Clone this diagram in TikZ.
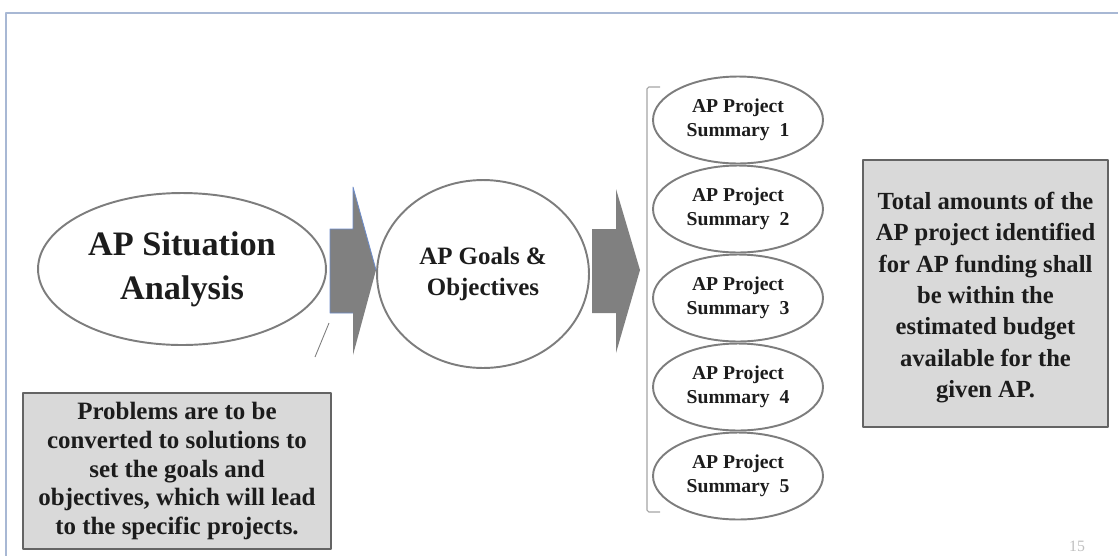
\documentclass[tikz,border=0pt]{standalone}
\usepackage{fontspec}
\setmainfont{Liberation Serif}
\usetikzlibrary{shapes.geometric}

\definecolor{frameblue}{RGB}{168,184,212}
\definecolor{rimgray}{RGB}{125,125,125}
\definecolor{boxgray}{RGB}{217,217,217}
\definecolor{arrowgray}{RGB}{128,128,128}
\definecolor{inkdark}{RGB}{28,28,28}
\definecolor{edgeblue}{RGB}{110,140,200}

\tikzset{
  bubble/.style={ellipse, draw=rimgray, line width=1.1pt, inner sep=0pt,
    text=inkdark, font=\bfseries, align=center},
  notebox/.style={rectangle, draw=rimgray!80!black, line width=0.8pt,
    fill=boxgray, inner sep=0pt, text=inkdark, align=center},
  blockarrow/.style={fill=arrowgray, draw=none}
}

\begin{document}
\begin{tikzpicture}[x=0.02cm, y=-0.02cm, line join=round]
  \useasboundingbox (0,0) rectangle (1118,555);

  % cadre de la diapositive
  \draw[frameblue, line width=1.2pt] (6,560) -- (6,13) -- (1125,13);

  % situation et objectifs
  \node[bubble, minimum width=5.76cm, minimum height=3.04cm,
    font=\bfseries\fontsize{19.5}{25}\selectfont] (situation) at (182,269)
    {AP Situation\\Analysis};
  \node[bubble, minimum width=4.24cm, minimum height=3.76cm,
    font=\bfseries\fontsize{14.2}{18.2}\selectfont] (goals) at (483,274)
    {AP Goals \&\\Objectives};

  % trait vers la note
  \coordinate (tickA) at (329,323);
  \coordinate (tickB) at (315,357);
  \draw[rimgray, line width=0.5pt] (tickA) -- (tickB);

  % flèches pleines
  \fill[blockarrow] (330,229) -- (353,229) -- (353,187) -- (376,270)
    -- (353,355) -- (353,313) -- (330,313) -- cycle;
  \draw[edgeblue, line width=0.5pt] (353,313) -- (330,313) -- (330,229)
    -- (353,229) -- (353,187) -- (376,270);
  \fill[blockarrow] (592,229) -- (616,229) -- (616,189) -- (640,270)
    -- (616,353) -- (616,313) -- (592,313) -- cycle;

  % accolade des projets
  \draw[rimgray!70, line width=0.6pt, rounded corners=1pt]
    (660,87) -- (647,87) -- (647,512) -- (660,512);

  % résumés des projets
  \foreach \k/\yy in {1/120, 2/209, 3/298, 4/387, 5/476}
    \node[bubble, minimum width=3.4cm, minimum height=1.74cm,
      font=\bfseries\fontsize{11.2}{13.8}\selectfont] (summary\k) at (738,\yy)
      {AP Project\\Summary~~\k};

  % notes grises
  \node[notebox, minimum width=6.16cm, minimum height=3.12cm,
    font=\bfseries\fontsize{14.2}{16.3}\selectfont] (problems) at (177,471)
    {Problems are to be\\converted to solutions to\\set the goals and\\objectives, which will lead\\to the specific projects.};
  \node[notebox, minimum width=4.9cm, minimum height=5.34cm,
    font=\bfseries\fontsize{14}{17.8}\selectfont] (budget) at (985.5,293.5)
    {};
  \node[text=inkdark, align=center, inner sep=0pt,
    font=\bfseries\fontsize{14}{17.8}\selectfont] (budgettext) at (985.5,297.5)
    {Total amounts of the\\AP project identified\\for AP funding shall\\be within the\\estimated budget\\available for the\\given AP.};

  % numéro de page
  \node[text=black!25, font=\fontsize{9}{10}\selectfont] (pagenum) at (1077,546) {15};
\end{tikzpicture}
\end{document}
